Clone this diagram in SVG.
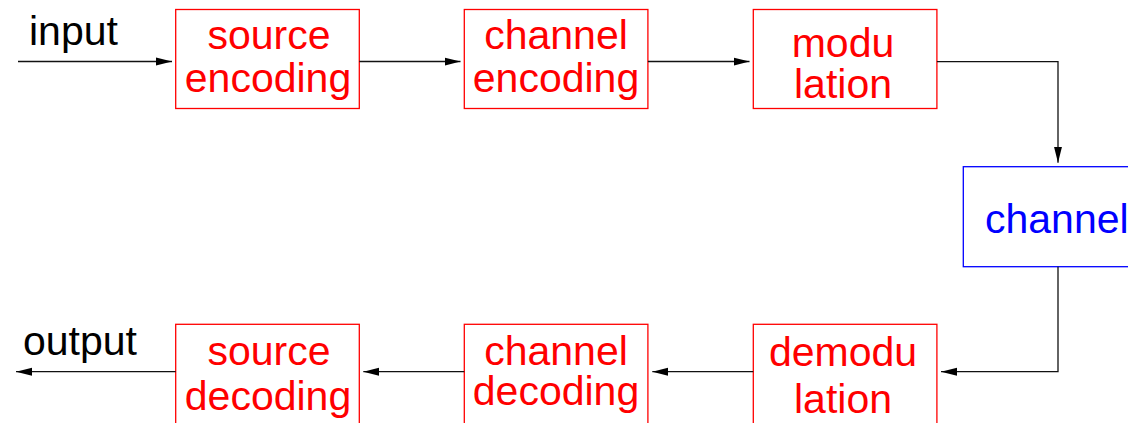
<svg xmlns="http://www.w3.org/2000/svg" width="1128" height="423" viewBox="0 0 1128 423">
  <style>
    .blk { fill: #ffffff; stroke: #ff0000; stroke-width: 1.3; }
    .chn { fill: #ffffff; stroke: #0000ff; stroke-width: 1.3; }
    .lbl { font-family: "Liberation Sans", Arial, sans-serif; font-size: 41px; fill: #ff0000; text-anchor: middle; }
    .chl { font-family: "Liberation Sans", Arial, sans-serif; font-size: 41px; fill: #0000ff; }
    .io { font-family: "Liberation Sans", Arial, sans-serif; font-size: 41px; fill: #000000; }
    .wire { fill: none; stroke: #111111; stroke-width: 1.3; marker-end: url(#arrow); }
  </style>
  <defs>
    <marker id="arrow" markerUnits="userSpaceOnUse" markerWidth="16" markerHeight="10" viewBox="0 0 16 10" refX="16" refY="5" orient="auto">
      <path d="M0,1 L16,5 L0,9 Z" fill="#000000"/>
    </marker>
  </defs>

  <rect width="1128" height="423" fill="#ffffff"/>

  <!-- input / output labels -->
  <text class="io" x="29" y="45">input</text>
  <text class="io" x="23" y="355">output</text>

  <!-- transmitter chain -->
  <g id="source-encoding">
    <rect class="blk" x="175.7" y="9.5" width="183.6" height="99"/>
    <text class="lbl" x="269" y="49">source</text>
    <text class="lbl" x="268" y="92">encoding</text>
  </g>
  <g id="channel-encoding">
    <rect class="blk" x="464.3" y="9.5" width="183.6" height="99"/>
    <text class="lbl" x="556" y="49">channel</text>
    <text class="lbl" x="556" y="92">encoding</text>
  </g>
  <g id="modulation">
    <rect class="blk" x="753.3" y="9.5" width="183.6" height="99"/>
    <text class="lbl" x="843" y="57">modu</text>
    <text class="lbl" x="843" y="98">lation</text>
  </g>

  <!-- physical channel -->
  <g id="channel">
    <rect class="chn" x="963.3" y="166.7" width="200" height="100"/>
    <text class="chl" x="985" y="233">channel</text>
  </g>

  <!-- receiver chain -->
  <g id="demodulation">
    <rect class="blk" x="753.3" y="324.3" width="183.6" height="110"/>
    <text class="lbl" x="843" y="366">demodu</text>
    <text class="lbl" x="843" y="413">lation</text>
  </g>
  <g id="channel-decoding">
    <rect class="blk" x="464.3" y="324.3" width="183.6" height="110"/>
    <text class="lbl" x="556" y="365">channel</text>
    <text class="lbl" x="556" y="405">decoding</text>
  </g>
  <g id="source-decoding">
    <rect class="blk" x="175.7" y="324.3" width="183.6" height="110"/>
    <text class="lbl" x="269" y="365">source</text>
    <text class="lbl" x="268" y="410">decoding</text>
  </g>

  <!-- signal flow -->
  <g id="connectors">
    <path class="wire" d="M18,61.5 H172"/>
    <path class="wire" d="M359.3,61.5 H460.5"/>
    <path class="wire" d="M647.9,61.5 H749.5"/>
    <path class="wire" d="M936.9,61.7 H1058 V162.7"/>
    <path class="wire" d="M1058,266.7 V371.7 H941"/>
    <path class="wire" d="M753.3,371.7 H652.3"/>
    <path class="wire" d="M464.3,371.7 H363.3"/>
    <path class="wire" d="M175.7,371.7 H16"/>
  </g>
</svg>
